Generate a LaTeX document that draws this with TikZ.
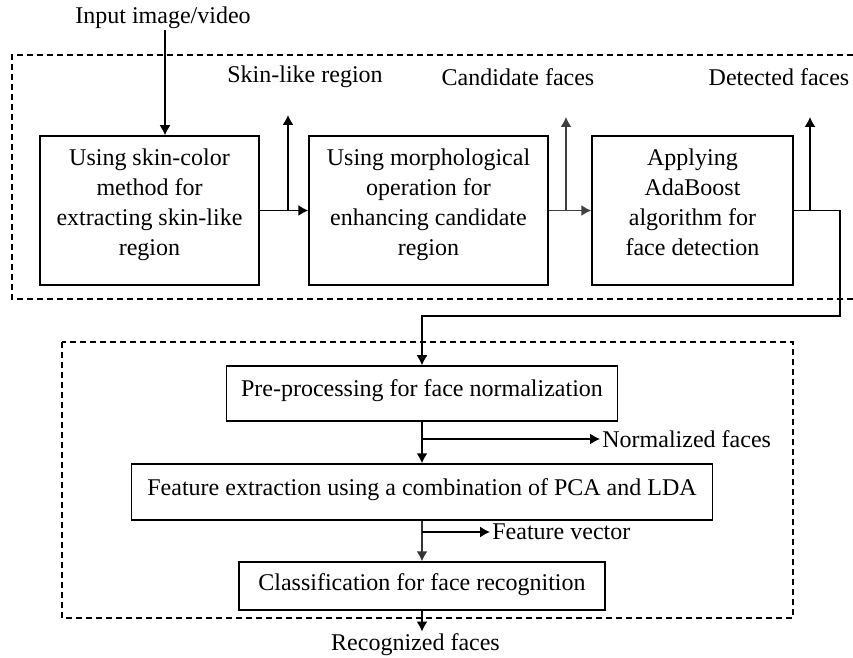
\documentclass[tikz,border=0pt]{standalone}
\usepackage{fontspec}
\setmainfont{Liberation Serif}
\usetikzlibrary{arrows.meta}

\begin{document}
\begin{tikzpicture}[x=0.5pt, y=-0.5pt,
    font=\fontsize{12}{15}\selectfont,
    box/.style={draw, line width=0.75pt, align=center, inner sep=2pt},
    bigbox/.style={box, minimum height=74.5pt, text depth=8pt},
    lbl/.style={inner sep=1pt},
    arr/.style={-{Latex[length=5pt,width=5.5pt]}, line width=0.75pt},
    grp/.style={draw, dash pattern=on 3pt off 2pt, line width=0.6pt}]
\useasboundingbox (0,0) rectangle (853,658);
\draw[grp] (853,55) -- (12,55) -- (12,299) -- (853,299);
\draw[grp] (62,342) rectangle (793,618);

\node[lbl] (in1) at (163,18) {Input image/video};
\node[bigbox, minimum width=109.5pt] (skin) at (149.5,210.5) {Using skin-color\\method for\\extracting skin-like\\region};
\node[bigbox, minimum width=119.5pt] (morph) at (428.5,210.5) {Using morphological\\operation for\\enhancing candidate\\region};
\node[bigbox, minimum width=100.5pt] (ada) at (692.5,210.5) {Applying\\AdaBoost\\algorithm for\\face detection};
\node[lbl] (skinlbl) at (305,77) {Skin-like region};
\node[lbl] (candlbl) at (518,77) {Candidate faces};
\node[lbl] (detlbl) at (779,77) {Detected faces};

\node[box, text depth=5pt, minimum width=195.5pt, minimum height=27.5pt] (prep) at (422,393.5) {Pre-processing for face normalization};
\node[box, text depth=5pt, minimum width=290.5pt, minimum height=28pt] (feat) at (422,492) {Feature extraction using a combination of PCA and LDA};
\node[box, text depth=4pt, minimum width=183pt, minimum height=24pt] (cls) at (422,586) {Classification for face recognition};
\node[lbl, anchor=west] (normlbl) at (600,439) {Normalized faces};
\node[lbl, anchor=west] (featlbl) at (490,532) {Feature vector};
\node[lbl] (reclbl) at (415.5,645) {Recognized faces};

\coordinate (ti) at (165,30);
\coordinate (b1) at (288,210.5);
\coordinate (b2) at (566,210.5);
\coordinate (b3) at (810,210.5);
\coordinate (r1) at (840,316);
\coordinate (b4) at (422,439);
\coordinate (b5) at (422,532);

\draw[arr] (ti) -- (ti |- skin.north);
\draw[arr] (skin) -- (morph);
\draw[arr, black!75] (morph) -- (ada);
\draw[arr] (b1) -- (b1 |- 0,115);
\draw[arr, black!75] (b2) -- (b2 |- 0,117);
\draw[arr] (b3) -- (b3 |- 0,117);
\draw[arr] (ada.east) -| (r1) -| (prep.north);
\draw[arr] (prep) -- (feat);
\draw[arr] (b4) -- (normlbl.west);
\draw[arr, black!80] (feat) -- (cls);
\draw[arr] (b5) -- (featlbl.west);
\draw[arr] (cls.south) -- (cls.south |- reclbl.north);
\end{tikzpicture}
\end{document}
